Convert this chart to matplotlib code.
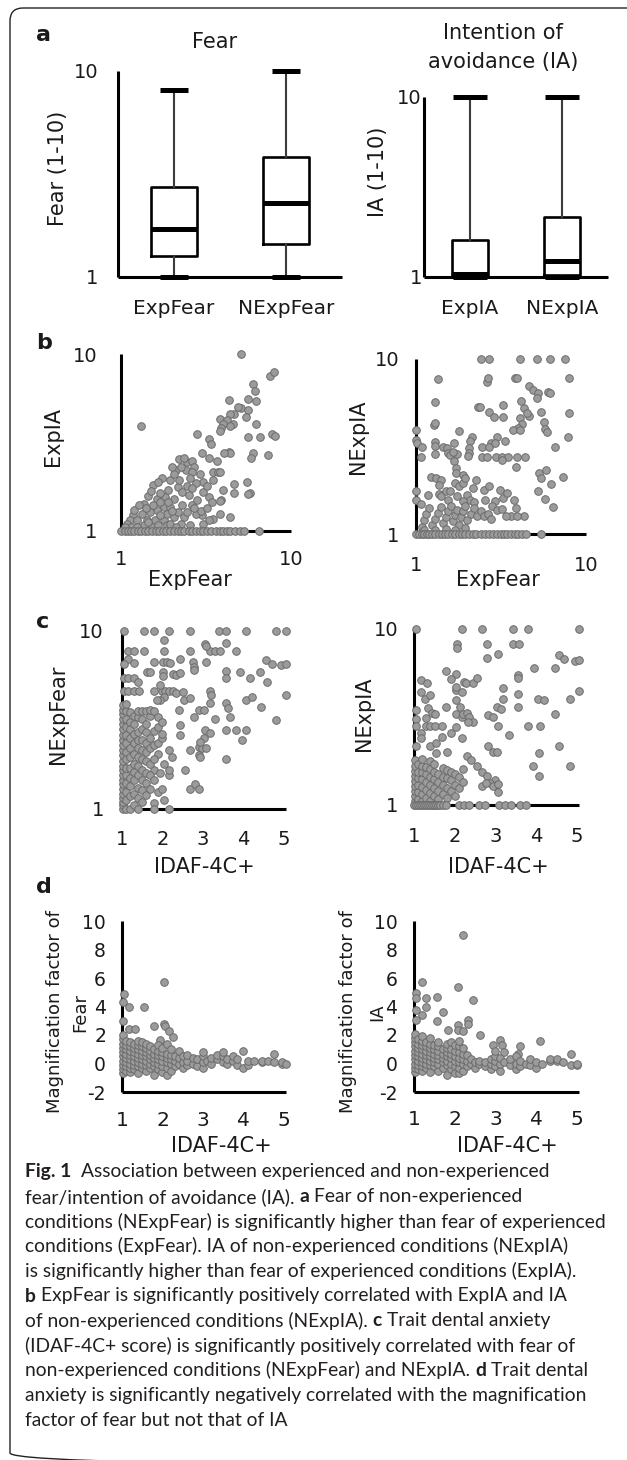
import numpy as np
import matplotlib
matplotlib.use('Agg')
import matplotlib.pyplot as plt
from matplotlib.patches import FancyBboxPatch
from matplotlib.ticker import NullLocator

plt.rcParams['font.family'] = ['DejaVu Sans']
plt.rcParams['axes.unicode_minus'] = False

W, H = 627, 1460
INK = '#1a1a1a'
DOT_FACE = '#9b9b9b'
DOT_EDGE = '#6b6b6b'
CAP_FONT = 'Lato'

# ---------------- panel a : box plot summaries (log axis 1-10) ----------------
fear_labels = ['ExpFear', 'NExpFear']
fear_whislo = [1.0, 1.0]
fear_q1 = [1.26, 1.45]
fear_med = [1.71, 2.29]
fear_q3 = [2.73, 3.82]
fear_whishi = [8.1, 10.0]

ia_labels = ['ExpIA', 'NExpIA']
ia_whislo = [1.0, 1.0]
ia_q1 = [1.0, 1.02]
ia_med = [1.04, 1.23]
ia_q3 = [1.6, 2.15]
ia_whishi = [10.0, 10.0]

# ---------------- panel b : ExpFear vs ExpIA / NExpIA (log-log) ----------------
b1_floor_x = [1.0, 1.05, 1.1, 1.15, 1.2, 1.26, 1.32, 1.38, 1.45, 1.52, 1.6, 1.68, 1.76,
              1.85, 1.95, 2.05, 2.15, 2.25, 2.35, 2.5, 2.6, 2.75, 2.9, 3.05, 3.2, 3.4,
              3.6, 3.8, 4.0, 4.2, 4.4, 4.7, 5.0, 5.3, 6.45]
b1_points = [
    (5.05, 10), (7.5, 7.5), (7.9, 7.95), (6.0, 6.8), (6.15, 6.15), (4.3, 5.5), (5.6, 5.6),
    (6.2, 5.45), (5.05, 4.95), (5.55, 4.85), (4.9, 5.05), (4.6, 4.6), (4.4, 4.6), (3.8, 4.3),
    (4.2, 4.25), (4.0, 4.0), (4.55, 4.0), (3.85, 3.8), (3.8, 3.65), (4.35, 3.9), (5.45, 4.4),
    (6.2, 4.0), (2.8, 3.55), (3.3, 3.3), (3.4, 3.1), (1.31, 3.9), (5.55, 3.4), (6.6, 3.4),
    (7.7, 3.55), (8.05, 3.45), (7.3, 2.7), (5.95, 2.75), (5.8, 2.6), (4.3, 2.8), (4.4, 2.75),
    (4.05, 2.75), (3.5, 2.15), (3.7, 2.15), (3.8, 2.15), (3.0, 2.75), (2.45, 2.45), (2.2, 2.55),
    (2.6, 2.5), (2.7, 2.3), (2.4, 2.2), (2.1, 2.2), (2.25, 2.3), (1.93, 1.95), (2.06, 2.1),
    (2.6, 2.15), (2.9, 2.1), (3.05, 1.9), (2.75, 1.87), (2.45, 1.8), (2.15, 1.78), (2.3, 1.66),
    (2.6, 1.74), (3.05, 1.66), (3.3, 1.55), (3.85, 1.5), (3.8, 1.47), (4.6, 1.85), (5.5, 1.88),
    (5.75, 1.64), (5.6, 1.62), (4.6, 1.63), (4.35, 1.2), (3.8, 1.25), (3.5, 1.17), (3.3, 1.15),
    (3.0, 1.23), (2.75, 1.25), (2.95, 1.3), (2.6, 1.41), (2.3, 1.41), (2.05, 1.52), (1.82, 1.56),
    (1.62, 1.52), (1.55, 1.81), (1.45, 1.57), (1.36, 1.43), (1.78, 1.37), (1.95, 1.37),
    (1.62, 1.31), (1.48, 1.28), (1.33, 1.25), (1.18, 1.23), (1.13, 1.15), (1.08, 1.1),
    (1.24, 1.15), (1.42, 1.15), (1.59, 1.15), (1.78, 1.15), (2.04, 1.2), (2.35, 1.2),
    (2.45, 1.28), (2.15, 1.28), (1.86, 1.25), (1.7, 1.23), (1.52, 1.05), (1.36, 1.08),
    (1.86, 1.08), (2.25, 1.1), (2.55, 1.08), (3.05, 1.1), (1.2, 1.32), (1.28, 1.4), (1.4, 1.35),
    (1.55, 1.4), (1.7, 1.45), (1.9, 1.45), (2.0, 1.3), (1.15, 1.05), (1.25, 1.05), (1.45, 1.12),
    (1.65, 1.08), (1.95, 1.1), (2.1, 1.05), (1.05, 1.05), (1.7, 1.65), (1.9, 1.7), (1.5, 1.68),
    (1.75, 2.0), (1.65, 1.9), (2.0, 2.3), (2.35, 2.6), (2.55, 2.0), (2.2, 1.95), (2.5, 1.6),
    (2.8, 1.5), (2.7, 1.35), (3.2, 1.35), (3.45, 1.45), (3.2, 1.8), (3.5, 1.95), (4.0, 1.7),
    (3.65, 2.5), (3.3, 2.6),
]

b2_floor_x = [1.0, 1.04, 1.08, 1.12, 1.16, 1.2, 1.25, 1.3, 1.36, 1.42, 1.48, 1.55, 1.62,
              1.7, 1.78, 1.86, 1.95, 2.05, 2.15, 2.25, 2.4, 2.55, 2.7, 2.85, 3.0, 3.15,
              3.3, 3.45, 3.6, 3.8, 4.0, 4.2, 4.45, 5.4]
b2_points = [
    (2.41, 10), (2.67, 10), (4.09, 10), (5.13, 10), (6.1, 10), (7.53, 10),
    (1.34, 7.7), (2.6, 7.4), (2.65, 7.8), (3.8, 7.8), (3.95, 7.8), (4.6, 7.0), (4.9, 6.65),
    (5.2, 6.4), (5.15, 5.95), (6.0, 6.5), (6.15, 6.4), (7.9, 7.75), (1.3, 5.65), (2.33, 5.3),
    (2.38, 5.3), (2.7, 5.0), (2.87, 4.65), (3.25, 5.45), (3.25, 4.65), (4.15, 5.75), (4.3, 5.25),
    (4.6, 4.7), (4.5, 4.9), (4.1, 4.6), (5.4, 5.0), (7.95, 4.9), (7.85, 3.6), (6.6, 3.15),
    (5.7, 4.35), (5.75, 4.0), (5.9, 3.85), (4.2, 4.25), (4.0, 4.05), (3.7, 3.95), (4.1, 3.95),
    (1.28, 4.2), (1.3, 4.3), (1.0, 3.95), (1.0, 3.45), (1.01, 3.3), (1.08, 3.15), (1.07, 2.77),
    (1.3, 3.35), (1.3, 3.2), (1.3, 2.85), (1.45, 3.15), (1.52, 3.1), (1.68, 3.3), (1.8, 3.9),
    (1.55, 2.9), (1.58, 2.82), (1.74, 2.85), (1.66, 2.95), (2.13, 3.6), (2.09, 3.38),
    (2.04, 3.1), (2.06, 2.9), (2.02, 2.78), (2.45, 3.16), (2.75, 3.3), (2.68, 3.16), (3.0, 3.6),
    (2.93, 3.3), (3.35, 3.4), (2.45, 2.77), (2.62, 2.77), (2.96, 2.77), (3.2, 2.77), (3.5, 2.77),
    (3.95, 2.77), (4.4, 2.77), (3.22, 2.65), (3.9, 2.43), (1.68, 2.6), (1.72, 2.38),
    (1.72, 2.23), (1.69, 1.95), (1.22, 2.13), (1.31, 2.08), (1.4, 2.04), (1.36, 1.9),
    (1.36, 1.7), (1.0, 1.77), (1.0, 1.57), (1.07, 1.49), (1.17, 1.66), (1.4, 1.64), (1.5, 1.75),
    (1.59, 1.75), (1.78, 1.87), (1.9, 1.95), (1.88, 2.18), (1.95, 2.09), (2.15, 1.83),
    (2.5, 1.79), (2.56, 1.57), (2.68, 1.87), (3.14, 1.79), (3.26, 1.6), (2.9, 1.54),
    (3.45, 1.71), (3.77, 1.57), (4.3, 1.27), (3.6, 1.27), (2.8, 1.44), (3.0, 1.38), (3.2, 1.39),
    (3.85, 1.41), (5.3, 2.23), (5.4, 2.09), (5.8, 2.33), (6.2, 1.93), (7.3, 2.13), (5.2, 1.77),
    (5.75, 1.58), (6.4, 1.43), (2.24, 2.04), (2.0, 1.68), (2.08, 1.57), (1.74, 1.64),
    (1.55, 1.57), (1.9, 1.55), (2.2, 1.52), (1.08, 1.1), (1.12, 1.2), (1.15, 1.3), (1.2, 1.4),
    (1.25, 1.12), (1.3, 1.22), (1.35, 1.32), (1.4, 1.42), (1.45, 1.15), (1.5, 1.25),
    (1.55, 1.35), (1.6, 1.45), (1.65, 1.18), (1.7, 1.28), (1.75, 1.38), (1.8, 1.12),
    (1.85, 1.25), (1.9, 1.35), (1.95, 1.45), (2.0, 1.2), (2.1, 1.3), (2.2, 1.4), (2.3, 1.27),
    (2.4, 1.35), (2.5, 1.27), (2.65, 1.3), (2.75, 1.22), (3.4, 1.27), (3.95, 1.27),
    (1.12, 1.05), (1.3, 1.05), (1.5, 1.07), (1.7, 1.05), (1.95, 1.08),
]

# ---------------- panel c : IDAF-4C+ vs NExpFear / NExpIA (y log) ----------------
c1_columns = {  # dense cluster, IDAF-4C+ -> NExpFear values
    1.02: [1.0, 1.05, 1.1, 1.16, 1.22, 1.3, 1.38, 1.46, 1.55, 1.65, 1.75, 1.87, 2.0, 2.14,
           2.3, 2.45, 2.62, 2.8, 3.0, 3.2, 3.4, 3.6, 3.85],
    1.1: [1.0, 1.12, 1.25, 1.4, 1.55, 1.7, 1.9, 2.1, 2.35, 2.6, 2.9, 3.2, 3.55, 3.9],
    1.2: [1.0, 1.18, 1.35, 1.5, 1.7, 1.95, 2.2, 2.5, 2.8, 3.1, 3.5],
    1.3: [1.05, 1.22, 1.45, 1.62, 1.8, 2.05, 2.35, 2.65, 3.0, 3.35],
    1.4: [1.0, 1.15, 1.32, 1.55, 1.75, 1.95, 2.2, 2.45, 2.7, 3.3, 3.55],
    1.5: [1.1, 1.28, 1.45, 1.65, 1.9, 2.15, 2.45, 2.8, 3.2, 3.55],
    1.6: [1.2, 1.4, 1.6, 1.85, 2.1, 2.35, 2.7, 3.0, 3.55],
    1.7: [1.3, 1.55, 1.8, 2.2, 2.5, 3.35, 3.6],
    1.8: [1.45, 1.9, 2.3, 2.75, 3.55],
    1.9: [1.25, 2.35, 2.9, 3.3],
    2.0: [1.3, 2.5, 2.65, 3.1],
}
c1_points = [
    (1.04, 10), (1.55, 10), (1.78, 10), (2.17, 10), (2.68, 10), (3.4, 10), (3.57, 10),
    (4.05, 10), (4.8, 10), (5.05, 10), (2.03, 8.9), (1.16, 7.75), (1.29, 7.75), (1.55, 7.75),
    (2.03, 7.75), (2.68, 7.75), (3.18, 7.75), (3.3, 7.75), (3.42, 7.75), (3.81, 7.75),
    (3.04, 8.45), (3.08, 8.25), (3.57, 8.6), (1.15, 7.0), (1.3, 6.65), (1.06, 6.5), (1.8, 6.72),
    (2.01, 6.72), (2.11, 6.72), (2.42, 7.0), (2.75, 6.72), (3.07, 6.72), (2.19, 6.6),
    (1.62, 5.9), (1.7, 5.9), (2.01, 5.85), (2.01, 5.6), (2.27, 5.7), (2.34, 5.65), (2.44, 5.78),
    (2.77, 6.3), (2.78, 6.05), (3.57, 5.95), (3.57, 5.47), (3.92, 5.9), (4.16, 5.47),
    (4.42, 5.9), (4.55, 6.87), (4.7, 6.5), (4.93, 6.4), (5.05, 6.5), (4.57, 5.2), (1.06, 5.47),
    (1.15, 5.47), (1.29, 5.42), (1.39, 5.19), (1.06, 4.6), (1.16, 4.6), (1.29, 4.6),
    (1.41, 4.6), (1.8, 4.6), (2.0, 4.6), (2.07, 4.6), (2.15, 4.6), (2.27, 4.6), (3.18, 4.6),
    (1.94, 5.0), (2.34, 4.47), (2.5, 4.55), (2.54, 4.1), (2.68, 4.18), (2.03, 4.28),
    (1.94, 4.1), (1.86, 4.1), (3.19, 4.37), (3.18, 3.92), (3.57, 3.96), (3.61, 3.67),
    (4.06, 4.1), (4.2, 4.24), (4.43, 3.72), (5.05, 4.37), (4.8, 3.16), (3.67, 3.27),
    (3.3, 3.21), (2.78, 3.3), (2.9, 3.6), (3.03, 3.6), (2.41, 3.6), (2.44, 2.96), (2.44, 2.6),
    (2.15, 2.14), (2.23, 1.97), (2.03, 1.8), (1.9, 2.05), (1.78, 1.66), (1.94, 1.59),
    (2.15, 1.55), (2.17, 1.66), (2.56, 1.66), (2.67, 2.14), (2.91, 2.24), (2.91, 2.0),
    (2.93, 1.97), (2.97, 2.19), (3.07, 2.19), (3.05, 2.78), (3.03, 2.5), (2.93, 2.39),
    (3.18, 2.68), (3.57, 2.78), (3.82, 2.78), (4.06, 2.78), (3.96, 2.44), (3.56, 1.9),
    (2.67, 1.3), (2.81, 1.39), (2.91, 1.3), (2.03, 1.12), (1.8, 1.08), (1.78, 1.0), (2.17, 1.0),
]

c2_floor_x = [1.0, 1.05, 1.1, 1.15, 1.2, 1.25, 1.3, 1.35, 1.4, 1.45, 1.5, 1.55, 1.6, 1.65,
              1.7, 1.78, 2.1, 2.22, 2.36, 2.6, 2.75, 3.08, 3.24, 3.38, 3.59, 3.74]
c2_columns = {  # dense cluster, IDAF-4C+ -> NExpIA values
    1.02: [1.05, 1.12, 1.2, 1.28, 1.37, 1.46, 1.56, 1.67, 1.8],
    1.1: [1.08, 1.18, 1.3, 1.42, 1.55, 1.7],
    1.2: [1.05, 1.15, 1.27, 1.4, 1.53, 1.67, 1.82],
    1.3: [1.1, 1.22, 1.35, 1.5, 1.65],
    1.4: [1.05, 1.17, 1.3, 1.45, 1.6, 1.78],
    1.5: [1.12, 1.25, 1.4, 1.55, 1.7],
    1.6: [1.08, 1.2, 1.35, 1.5],
    1.7: [1.15, 1.3, 1.45, 1.62],
    1.8: [1.1, 1.25, 1.42, 1.58],
    1.9: [1.2, 1.38, 1.55],
    2.0: [1.12, 1.3, 1.5],
    2.1: [1.25, 1.45],
    2.2: [1.35, 1.6],
}
c2_points = [
    (1.04, 10), (2.17, 10), (2.68, 10), (3.43, 10), (3.81, 10), (5.05, 10),
    (2.06, 8.2), (2.06, 7.85), (2.8, 8.2), (2.8, 6.8), (3.07, 7.2), (3.42, 8.2), (3.58, 8.2),
    (4.55, 7.1), (4.69, 6.75), (4.94, 6.6), (5.05, 6.7), (3.95, 6.0), (4.47, 6.0), (5.05, 4.45),
    (4.82, 4.0), (4.05, 4.0), (4.18, 3.93), (4.45, 3.3), (3.56, 5.5), (3.56, 5.25), (3.56, 4.3),
    (3.56, 3.6), (3.81, 2.8), (4.09, 2.8), (4.55, 2.15), (4.08, 1.97), (3.93, 1.66),
    (4.07, 1.47), (4.82, 1.67), (3.18, 4.65), (3.18, 4.0), (3.03, 3.6), (3.13, 3.5),
    (2.82, 3.25), (2.93, 3.18), (3.07, 2.8), (3.33, 2.5), (2.82, 2.15), (2.94, 2.0), (3.03, 2.0),
    (1.78, 5.75), (2.04, 5.55), (1.92, 5.2), (2.22, 5.0), (2.28, 4.95), (2.44, 4.95),
    (2.54, 5.3), (1.18, 5.1), (1.32, 4.95), (1.16, 4.4), (1.28, 4.0), (1.4, 4.2), (1.04, 3.45),
    (1.04, 3.1), (1.04, 2.8), (1.04, 2.15), (1.16, 2.55), (1.18, 2.4), (1.34, 3.55),
    (1.43, 3.33), (1.3, 3.12), (1.51, 3.27), (1.3, 2.8), (1.39, 2.8), (1.51, 2.8), (1.69, 2.8),
    (1.78, 3.6), (1.4, 2.16), (1.55, 2.24), (1.53, 1.97), (1.69, 2.45), (1.8, 2.0), (1.92, 2.58),
    (2.04, 2.78), (2.04, 3.3), (2.04, 4.5), (2.04, 4.68), (2.04, 3.93), (2.17, 4.4),
    (2.12, 3.62), (2.17, 3.17), (2.21, 3.27), (2.29, 3.33), (2.36, 3.17), (2.44, 2.97),
    (2.33, 2.98), (2.17, 2.4), (2.29, 1.9), (2.41, 1.8), (2.54, 1.66), (2.68, 1.53),
    (2.78, 1.46), (2.99, 1.39), (2.86, 1.33), (3.01, 1.28), (3.07, 1.18), (2.93, 1.28),
    (2.66, 1.29), (2.77, 1.33), (3.07, 1.31),
]

# ---------------- panel d : IDAF-4C+ vs magnification factor (linear) ----------------
d1_columns = {
    1.02: [-0.7, -0.4, -0.1, 0.2, 0.5, 0.8, 1.1, 1.4, 1.7, 2.0],
    1.1: [-0.5, -0.2, 0.1, 0.4, 0.7, 1.0, 1.3, 1.6],
    1.2: [-0.6, -0.3, 0.0, 0.3, 0.6, 0.9, 1.2, 1.5],
    1.3: [-0.4, -0.1, 0.2, 0.5, 0.8, 1.1, 1.4],
    1.4: [-0.7, -0.2, 0.1, 0.4, 0.7, 1.0, 1.3, 1.6],
    1.5: [-0.3, 0.0, 0.3, 0.6, 0.9, 1.2, 1.5],
    1.6: [-0.5, -0.1, 0.2, 0.5, 0.8, 1.1, 1.4],
    1.7: [-0.3, 0.0, 0.3, 0.6, 0.9, 1.2],
    1.8: [-0.8, -0.2, 0.1, 0.4, 0.7, 1.0],
    1.9: [-0.4, 0.0, 0.3, 0.6, 0.9, 1.3],
    2.0: [-0.6, -0.2, 0.2, 0.5, 0.8, 1.1],
    2.1: [-0.8, -0.3, 0.1, 0.4, 0.7, 1.4],
    2.2: [-0.5, 0.0, 0.3, 0.6, 1.0],
    2.3: [-0.2, 0.2, 0.5],
    2.4: [0.0, 0.4, 0.9],
    2.5: [-0.3, 0.1, 0.5],
    2.6: [-0.1, 0.2, 0.6],
    2.75: [0.0, 0.4],
    2.85: [-0.2, 0.3],
    3.0: [-0.3, 0.1, 0.5, 0.8],
    3.1: [0.2],
    3.2: [0.0, 0.4],
    3.35: [0.3, 0.6],
    3.5: [0.1, 0.5, 0.8],
    3.6: [0.0, 0.3],
    3.75: [0.2, 0.5],
    3.85: [-0.1, 0.3],
    4.0: [-0.3, 0.9],
    4.1: [-0.1, 0.2],
    4.25: [0.2],
    4.45: [0.1, 0.2],
    4.6: [0.15],
    4.75: [0.1, 0.65],
    4.95: [0.0, 0.1],
    5.05: [0.0],
}
d1_points = [
    (1.04, 4.9), (1.02, 4.35), (1.17, 3.95), (1.55, 4.0), (1.02, 3.0), (1.17, 2.45),
    (1.31, 2.4), (2.03, 5.7), (1.8, 2.6), (2.03, 2.8), (2.05, 2.6), (2.16, 2.25), (2.27, 1.85),
    (1.94, 1.65),
]

d2_columns = {
    1.02: [-0.6, -0.3, 0.0, 0.3, 0.6, 0.9, 1.2, 1.5, 1.8, 2.1],
    1.1: [-0.4, -0.1, 0.2, 0.5, 0.8, 1.1, 1.4, 1.7],
    1.2: [-0.5, -0.2, 0.1, 0.4, 0.7, 1.0, 1.3, 1.6, 1.9],
    1.3: [-0.3, 0.0, 0.3, 0.6, 0.9, 1.2, 1.5],
    1.4: [-0.6, -0.1, 0.2, 0.5, 0.8, 1.1, 1.4, 1.8],
    1.5: [-0.2, 0.1, 0.4, 0.7, 1.0, 1.3],
    1.6: [-0.5, 0.0, 0.3, 0.6, 0.9, 1.2, 1.5],
    1.7: [-0.3, 0.1, 0.4, 0.7, 1.0],
    1.8: [-0.8, -0.1, 0.2, 0.5, 0.8, 1.1, 1.4],
    1.9: [-0.4, 0.0, 0.4, 0.7, 1.0, 1.5],
    2.0: [-0.7, -0.2, 0.2, 0.5, 0.9, 1.3],
    2.1: [-0.7, -0.3, 0.1, 0.4, 0.8, 1.2, 1.6],
    2.2: [-0.5, 0.0, 0.3, 0.7, 1.1],
    2.3: [-0.2, 0.2, 0.6],
    2.4: [0.0, 0.3],
    2.5: [-0.3, 0.1],
    2.6: [0.0, 0.2],
    2.75: [-0.2, 0.1],
    2.9: [-0.4, 0.0, 0.3],
    3.0: [-0.2, 0.2, 0.5, 0.9],
    3.1: [-0.5, 0.0, 0.4],
    3.2: [0.1, 0.8],
    3.35: [-0.1, 0.3],
    3.5: [-0.4, 0.0, 0.5],
    3.6: [-0.2, 0.2],
    3.75: [0.0],
    3.85: [-0.1, 0.3],
    4.0: [-0.3, 0.1],
    4.15: [0.0],
    4.35: [0.2, 0.3],
    4.5: [0.2, 0.3],
    4.65: [0.1],
    4.85: [-0.1],
    5.0: [-0.1, 0.0],
}
d2_points = [
    (2.2, 9.0), (1.19, 5.7), (1.04, 4.95), (1.04, 4.6), (1.3, 4.6), (1.3, 4.0), (1.56, 4.7),
    (2.07, 5.4), (2.44, 4.45), (1.04, 3.75), (1.04, 3.05), (1.19, 3.4), (1.7, 3.6), (1.56, 2.95),
    (1.83, 2.35), (2.32, 3.05), (2.32, 2.75), (2.07, 2.7), (2.07, 2.35), (2.21, 2.25),
    (2.61, 2.0), (4.09, 1.6), (3.1, 1.65), (3.17, 1.3), (2.95, 1.3), (3.6, 1.2), (3.56, 0.7),
    (4.85, 0.65),
]

caption_lines = [
    [('Fig. 1', True), ('  Association between experienced and non-experienced', False)],
    [('fear/intention of avoidance (IA).', False), (' a', True), (' Fear of non-experienced', False)],
    [('conditions (NExpFear) is significantly higher than fear of experienced', False)],
    [('conditions (ExpFear). IA of non-experienced conditions (NExpIA)', False)],
    [('is significantly higher than fear of experienced conditions (ExpIA).', False)],
    [('b', True), (' ExpFear is significantly positively correlated with ExpIA and IA', False)],
    [('of non-experienced conditions (NExpIA).', False), (' c', True), (' Trait dental anxiety', False)],
    [('(IDAF-4C+ score) is significantly positively correlated with fear of', False)],
    [('non-experienced conditions (NExpFear) and NExpIA.', False), (' d', True), (' Trait dental', False)],
    [('anxiety is significantly negatively correlated with the magnification', False)],
    [('factor of fear but not that of IA', False)],
]


def collect(points, columns=None, floor_x=None):
    xs = [p[0] for p in points]
    ys = [p[1] for p in points]
    if columns:
        for x, col in columns.items():
            xs += [x] * len(col)
            ys += list(col)
    if floor_x:
        xs += list(floor_x)
        ys += [1.0] * len(floor_x)
    return np.array(xs), np.array(ys)


fig = plt.figure(figsize=(W / 100, H / 100), dpi=100)

# overlay in pixel units for the frame, labels and caption
ov = fig.add_axes([0, 0, 1, 1])
ov.set_xlim(0, W)
ov.set_ylim(H, 0)
ov.set_axis_off()
# frame: only the top and left edges fall inside the picture
ov.add_patch(FancyBboxPatch((10, 8), 660, 1458, boxstyle='round,pad=0,rounding_size=13',
                            fill=False, lw=1.0, ec='#222222'))


def px_axes(x0, y0, x1, y1):
    ax = fig.add_axes([x0 / W, 1 - y1 / H, (x1 - x0) / W, (y1 - y0) / H])
    ax.patch.set_alpha(0)
    for s in ['top', 'right']:
        ax.spines[s].set_visible(False)
    for s in ['left', 'bottom']:
        ax.spines[s].set_linewidth(2.2)
        ax.spines[s].set_color('black')
        ax.spines[s].set_capstyle('butt')
    return ax


def ticks_style(ax, xpad, ypad, xsize=14, ysize=14):
    ax.tick_params(axis='x', length=0, pad=xpad, labelsize=xsize, labelcolor=INK)
    ax.tick_params(axis='y', length=0, pad=ypad, labelsize=ysize, labelcolor=INK)


def log_axis(axis):
    axis.set_major_locator(plt.FixedLocator([1, 10]))
    axis.set_major_formatter(plt.FixedFormatter(['1', '10']))
    axis.set_minor_locator(NullLocator())


def label(x, y, s, size=14.5, rot=0, **kw):
    ov.text(x, y, s, fontsize=size, rotation=rot, ha='center', va='center', color=INK, **kw)


def box_panel(ax, labels, lo, q1, med, q3, hi, width, capw):
    stats = [dict(label=labels[i], whislo=lo[i], q1=q1[i], med=med[i], q3=q3[i],
                  whishi=hi[i], fliers=[]) for i in range(len(labels))]
    ax.bxp(stats, positions=[1, 2], widths=width, capwidths=capw, showfliers=False,
           boxprops=dict(color='black', lw=1.9),
           medianprops=dict(color='black', lw=3.6, solid_capstyle='butt'),
           whiskerprops=dict(color='#3c3c3c', lw=1.5),
           capprops=dict(color='black', lw=3.6, solid_capstyle='butt'))
    for ln in ax.lines:
        ln.set_clip_on(False)
    ax.set_xlim(0.5, 2.5)
    ax.set_yscale('log')
    ax.set_ylim(1, 10)
    log_axis(ax.yaxis)


def dots(ax, xs, ys):
    ax.scatter(xs, ys, s=30, c=DOT_FACE, edgecolors=DOT_EDGE, linewidths=0.7,
               clip_on=False, zorder=3)


# ---- a ----
ax = px_axes(118, 71, 342, 277)
box_panel(ax, fear_labels, fear_whislo, fear_q1, fear_med, fear_q3, fear_whishi, 0.41, 0.25)
ticks_style(ax, 16, 14, xsize=14.5)
ax = px_axes(424, 97, 608, 277)
box_panel(ax, ia_labels, ia_whislo, ia_q1, ia_med, ia_q3, ia_whishi, 0.39, 0.36)
ticks_style(ax, 16, 1.5, xsize=14.5)

ov.text(36, 35, 'a', fontsize=16, fontweight='bold', ha='left', va='center', color=INK)
label(215, 42, 'Fear', size=15)
label(503, 33, 'Intention of', size=15)
label(503, 62, 'avoidance (IA)', size=15)
label(58, 168, 'Fear (1-10)', rot=90, size=15)
label(378, 172, 'IA (1-10)', rot=90, size=15)

# ---- b ----
for (x0, y0, x1, y1), pts, floor, yl, ylx, xlx, ypad, xpad in [
        ((121, 354, 291, 531), b1_points, b1_floor_x, 'ExpIA', 53, 190, 17, 13.5),
        ((416, 359, 586, 534), b2_points, b2_floor_x, 'NExpIA', 358, 498, 12, 16)]:
    ax = px_axes(x0, y0, x1, y1)
    xs, ys = collect(pts, floor_x=floor)
    dots(ax, xs, ys)
    ax.set_xscale('log')
    ax.set_yscale('log')
    ax.set_xlim(1, 10)
    ax.set_ylim(1, 10)
    log_axis(ax.xaxis)
    log_axis(ax.yaxis)
    ticks_style(ax, xpad, ypad)
    label(ylx, 437, yl, rot=90, size=15)
    label(xlx, 580, 'ExpFear', size=15)
ov.text(36, 343, 'b', fontsize=16, fontweight='bold', ha='left', va='center', color=INK)

# ---- c ----
for (x0, y0, x1, y1), pts, cols, floor, yl, ylx, xlx, ypad, xpad in [
        ((122, 631, 286, 809), c1_points, c1_columns, None, 'NExpFear', 58, 204, 13, 15),
        ((414, 629, 579, 805), c2_points, c2_columns, c2_floor_x, 'NExpIA', 364, 498, 11.5, 16)]:
    ax = px_axes(x0, y0, x1, y1)
    xs, ys = collect(pts, cols, floor)
    dots(ax, xs, ys)
    ax.set_yscale('log')
    ax.set_xlim(1, 5.05)
    ax.set_ylim(1, 10)
    ax.set_xticks([1, 2, 3, 4, 5])
    log_axis(ax.yaxis)
    ticks_style(ax, xpad, ypad)
    label(ylx, 714, yl, rot=90, size=15)
    label(xlx, 867, 'IDAF-4C+', size=15)
ov.text(36, 622, 'c', fontsize=16, fontweight='bold', ha='left', va='center', color=INK)

# ---- d ----
for (x0, y0, x1, y1), pts, cols, name, lx1, lx2, xlx, ypad, xpad in [
        ((122, 921, 286, 1092), d1_points, d1_columns, 'Fear', 55, 80, 221, 11.5, 14),
        ((414, 921, 579, 1092), d2_points, d2_columns, 'IA', 348, 377, 507, 12, 13)]:
    ax = px_axes(x0, y0, x1, y1)
    xs, ys = collect(pts, cols)
    dots(ax, xs, ys)
    ax.set_xlim(1, 5.05)
    ax.set_ylim(-2, 10)
    ax.set_xticks([1, 2, 3, 4, 5])
    ax.set_yticks([-2, 0, 2, 4, 6, 8, 10])
    ticks_style(ax, xpad, ypad, xsize=14.5, ysize=13.5)
    label(lx1, 1012, 'Magnification factor of', rot=90, size=13)
    label(lx2, 1012, name, rot=90, size=13)
    label(xlx, 1146, 'IDAF-4C+', size=15)
ov.text(36, 887, 'd', fontsize=16, fontweight='bold', ha='left', va='center', color=INK)

# ---- caption ----
renderer = fig.canvas.get_renderer()


def text_width(s, size, bold=False):
    t = ov.text(0, 0, s, fontsize=size, family=CAP_FONT, fontweight='bold' if bold else 'normal')
    w = t.get_window_extent(renderer).width
    t.remove()
    return w


cap_size = 12 * 580 / text_width(caption_lines[2][0][0], 12)
space_w = text_width('n n', cap_size) - text_width('nn', cap_size)

for i, parts in enumerate(caption_lines):
    x = 25
    y = 1172 + i * 24.8
    for s, bold in parts:
        lead = len(s) - len(s.lstrip(' '))
        x += lead * space_w
        t = ov.text(x, y, s.strip(' '), fontsize=cap_size, family=CAP_FONT,
                    fontweight='bold' if bold else 'normal', ha='left', va='center',
                    color='#231f20')
        x += t.get_window_extent(renderer).width

fig.savefig('out.png', dpi=100)
